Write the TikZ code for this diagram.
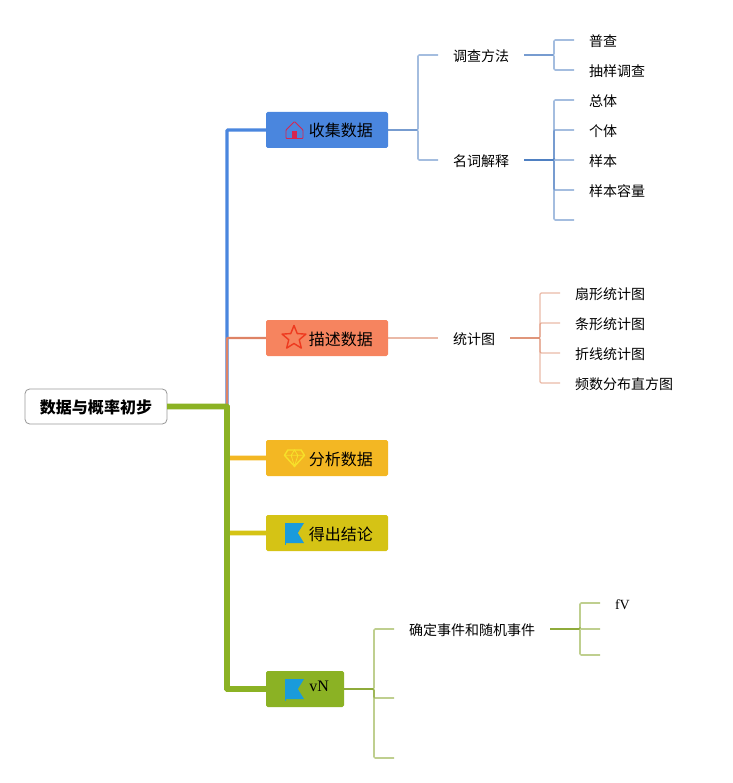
\documentclass[tikz,border=0pt]{standalone}
\usepackage{fontspec}
\setmainfont{Liberation Serif}
\newfontfamily\cjk{Noto Sans CJK SC}
\usetikzlibrary{positioning,calc}
\definecolor{bluetone}{HTML}{4A86DE}
\definecolor{salmontone}{HTML}{F6845F}
\definecolor{ambertone}{HTML}{F3B723}
\definecolor{olivetone}{HTML}{D5C315}
\definecolor{greentone}{HTML}{8BB224}
\definecolor{bluetwig}{HTML}{4A7CC0}
\definecolor{salmontwig}{HTML}{D9805F}
\definecolor{greentwig}{HTML}{7F9F20}
\definecolor{flagblue}{HTML}{1A9BDB}
\definecolor{homered}{HTML}{D6264F}
\definecolor{starred}{HTML}{EE3A1F}
\definecolor{gemyellow}{HTML}{F7E02A}
\tikzset{
  homeicon/.pic={
    \draw[draw=homered, line width=0.8pt, rounded corners=0.6pt] (0,0.255) -- (0.255,0) -- (0.255,-0.255) -- (-0.255,-0.255) -- (-0.255,0) -- cycle;
    \fill[homered] (-0.075,-0.255) rectangle (0.075,-0.045);
  },
  staricon/.pic={
    \draw[draw=starred, line width=1.2pt, line join=round] (90:0.375) -- (126:0.165) -- (162:0.375) -- (198:0.165) -- (234:0.375) -- (270:0.165) -- (306:0.375) -- (342:0.165) -- (18:0.375) -- (54:0.165) -- cycle;
  },
  gemicon/.pic={
    \draw[draw=gemyellow, line width=1.2pt, line join=round] (-0.2,0.24) -- (0.2,0.24) -- (0.3,0.08) -- (0,-0.25) -- (-0.3,0.08) -- cycle;
    \draw[draw=gemyellow, line width=0.7pt] (-0.3,0.08) -- (0.3,0.08) (-0.1,0.08) -- (0,-0.25) -- (0.1,0.08) (-0.1,0.08) -- (0,0.24) -- (0.1,0.08);
  },
  flagicon/.pic={
    \fill[flagblue] (-0.285,0.3) -- (0.285,0.3) -- (0.1,0) -- (0.285,-0.3) -- (-0.285,-0.3) -- cycle;
    \draw[draw=flagblue, line width=0.6pt] (-0.28,0.3) -- (-0.28,-0.36);
  }
}
\begin{document}
\begin{tikzpicture}[
  rootbox/.style={rectangle, draw=gray!80, line width=0.7pt, rounded corners=0.14cm, fill=white, minimum width=4.26cm, minimum height=1.05cm, text height=0.5cm, text depth=0.08cm, inner sep=0, outer sep=0, font=\cjk\fontsize{13.66pt}{16pt}\selectfont\bfseries},
  topic/.style={rectangle, rounded corners=0.05cm, fill=#1, text width=2.76cm, align=right, minimum height=1.08cm, text height=0.5cm, text depth=0.08cm, inner xsep=0.45cm, inner ysep=0, outer sep=0, font=\cjk\fontsize{13.66pt}{16pt}\selectfont},
  item/.style={rectangle, inner xsep=0.45cm, inner ysep=0.05cm, text height=0.46cm, text depth=0.08cm, outer sep=0, font=\cjk\fontsize{11.95pt}{14pt}\selectfont},
  trunk/.style={draw=#1, rounded corners=0.6pt},
  twig/.style={draw=#1, line width=1.3pt, opacity=0.5, rounded corners=1pt},
  thintwig/.style={draw=#1, line width=1pt, opacity=0.55, rounded corners=1pt}
]
  \useasboundingbox (-2.88,-11.295) rectangle (19.11,12.195);
  % Root
  \node[rootbox] (root) {数据与概率初步};
  % Main topics
  \node[topic=bluetone, right=2.97cm of root, yshift=8.295cm] (collect) {收集数据};
  \node[topic=salmontone, right=2.97cm of root, yshift=2.055cm] (describe) {描述数据};
  \node[topic=ambertone, right=2.97cm of root, yshift=-1.545cm] (analyse) {分析数据};
  \node[topic=olivetone, right=2.97cm of root, yshift=-3.795cm] (conclude) {得出结论};
  \node[topic=greentone, text width=1.44cm, right=2.97cm of root, yshift=-8.475cm] (vn) {\rmfamily\raisebox{4pt}{vN}};
  % Collect branch
  \node[item, right=1.5cm of collect, yshift=2.25cm] (survey) {调查方法};
  \node[item, right=1.5cm of collect, yshift=-0.9cm] (terms) {名词解释};
  \node[item, right=1.5cm of survey, yshift=0.45cm] (census) {普查};
  \node[item, right=1.5cm of survey, yshift=-0.45cm] (sampling) {抽样调查};
  \node[item, right=1.5cm of terms, yshift=1.8cm] (population) {总体};
  \node[item, right=1.5cm of terms, yshift=0.9cm] (individual) {个体};
  \node[item, right=1.5cm of terms] (sample) {样本};
  \node[item, right=1.5cm of terms, yshift=-0.9cm] (samplesize) {样本容量};
  \coordinate[right=1.5cm of terms, yshift=-1.8cm] (termsend);
  % Describe branch
  \node[item, right=1.5cm of describe] (chart) {统计图};
  \node[item, right=1.5cm of chart, yshift=1.35cm] (fan) {扇形统计图};
  \node[item, right=1.5cm of chart, yshift=0.45cm] (bar) {条形统计图};
  \node[item, right=1.5cm of chart, yshift=-0.45cm] (line) {折线统计图};
  \node[item, right=1.5cm of chart, yshift=-1.35cm] (histogram) {频数分布直方图};
  % vN branch
  \node[item, right=1.5cm of vn, yshift=1.8cm] (events) {确定事件和随机事件};
  \coordinate[right=1.5cm of vn, yshift=-0.27cm] (vnmid);
  \coordinate[right=1.5cm of vn, yshift=-2.07cm] (vnend);
  \node[item, font=\fontsize{11.95pt}{14pt}\selectfont, right=1.5cm of events, yshift=0.78cm] (fv) {fV};
  \coordinate[right=1.5cm of events] (eventsmid);
  \coordinate[right=1.5cm of events, yshift=-0.78cm] (eventsend);
  % Trunk
  \draw[trunk=bluetone, line width=2.6pt] (root.east) -- ++(1.8,0) |- (collect.west);
  \draw[trunk=salmontone!80!gray, line width=2pt] (root.east) -- ++(1.8,0) |- (describe.west);
  \draw[trunk=ambertone, line width=4.2pt] (root.east) -- ++(1.8,0) |- (analyse.west);
  \draw[trunk=olivetone, line width=4.2pt] (root.east) -- ++(1.8,0) |- (conclude.west);
  \draw[trunk=greentone, line width=5.1pt] (root.east) -- ++(1.8,0) |- (vn.west);
  % Twigs
  \draw[twig=bluetwig] (collect.east) -- ++(0.9,0) |- (survey.west);
  \draw[twig=bluetwig] (collect.east) -- ++(0.9,0) |- (terms.west);
  \draw[twig=bluetwig] (survey.east) -- ++(0.9,0) |- (census.west);
  \draw[twig=bluetwig] (survey.east) -- ++(0.9,0) |- (sampling.west);
  \draw[twig=bluetwig] (terms.east) -- ++(0.9,0) |- (population.west);
  \draw[twig=bluetwig] (terms.east) -- ++(0.9,0) |- (individual.west);
  \draw[twig=bluetwig] (terms.east) -- ++(0.9,0) |- (sample.west);
  \draw[twig=bluetwig] (terms.east) -- ++(0.9,0) |- (samplesize.west);
  \draw[twig=bluetwig] (terms.east) -- ++(0.9,0) |- (termsend);
  \draw[thintwig=salmontwig] (describe.east) -- (chart.west);
  \draw[thintwig=salmontwig] (chart.east) -- ++(0.9,0) |- (fan.west);
  \draw[thintwig=salmontwig] (chart.east) -- ++(0.9,0) |- (bar.west);
  \draw[thintwig=salmontwig] (chart.east) -- ++(0.9,0) |- (line.west);
  \draw[thintwig=salmontwig] (chart.east) -- ++(0.9,0) |- (histogram.west);
  \draw[twig=greentwig] (vn.east) -- ++(0.9,0) |- (events.west);
  \draw[twig=greentwig] (vn.east) -- ++(0.9,0) |- (vnmid);
  \draw[twig=greentwig] (vn.east) -- ++(0.9,0) |- (vnend);
  \draw[twig=greentwig] (events.east) -- ++(0.9,0) |- (fv.west);
  \draw[twig=greentwig] (events.east) -- ++(0.9,0) |- (eventsmid);
  \draw[twig=greentwig] (events.east) -- ++(0.9,0) |- (eventsend);
  % Icons
  \pic at ($(collect.west)+(0.855,0)$) {homeicon};
  \pic at ($(describe.west)+(0.84,0)$) {staricon};
  \pic at ($(analyse.west)+(0.855,0)$) {gemicon};
  \pic at ($(conclude.west)+(0.855,0)$) {flagicon};
  \pic at ($(vn.west)+(0.855,0)$) {flagicon};
\end{tikzpicture}
\end{document}
